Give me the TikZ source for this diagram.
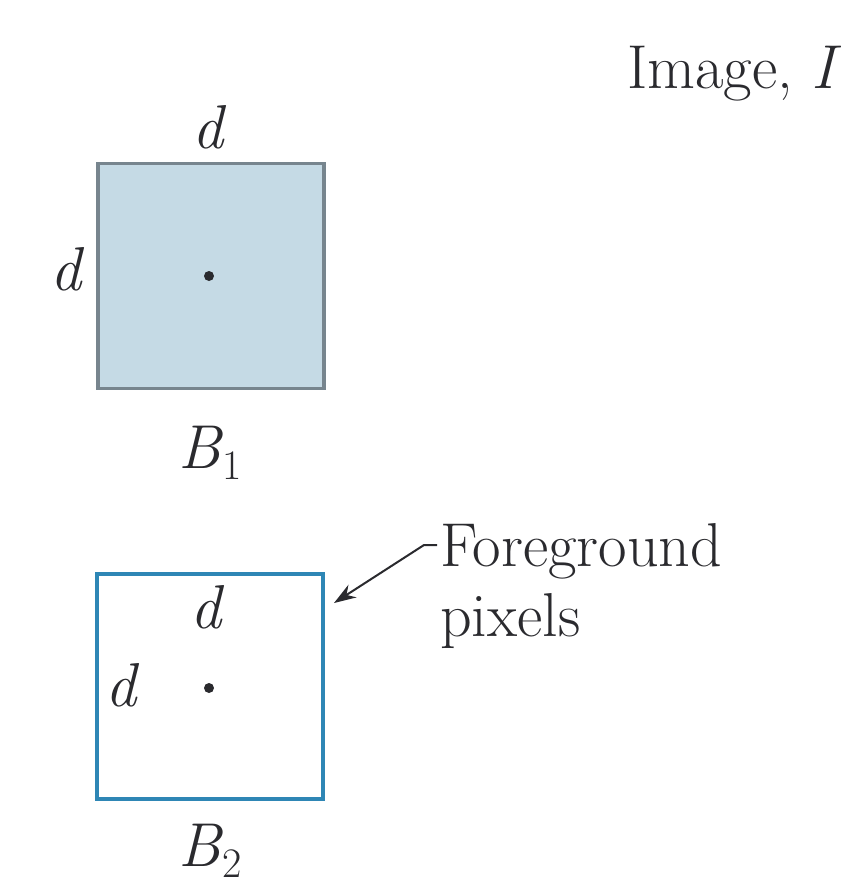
\documentclass[tikz,border=0pt]{standalone}
\usetikzlibrary{arrows.meta}
\definecolor{boxfill}{HTML}{C5DAE5}
\definecolor{boxgray}{HTML}{77858E}
\definecolor{boxblue}{HTML}{2E86B5}
\definecolor{ink}{HTML}{2A2A2E}
\newcommand{\sub}[1]{\raisebox{-0.18em}{\fontsize{42}{42}\selectfont #1}}
\tikzset{
  lbl/.style={inner sep=0pt, text=ink, font=\fontsize{62}{70}\selectfont},
  pt/.style={circle, fill=ink, inner sep=0pt, minimum size=10pt},
  squareA/.style={draw=boxgray, fill=boxfill, line width=3.5pt, minimum width=226pt, minimum height=225pt, inner sep=0pt},
  squareB/.style={draw=boxblue, line width=4pt, minimum width=226pt, minimum height=225pt, inner sep=0pt},
  leader/.style={draw=ink, line width=2pt, -{Stealth[length=22pt,width=15pt]}}
}
\begin{document}
\begin{tikzpicture}[x=1pt,y=-1pt]
\useasboundingbox (0,0) rectangle (866,892);
% Box B1
\node[squareA] (b1) at (211,276) {};
\node[pt] (c1) at (209,276) {};
\node[lbl, anchor=base] (d1t) at (210,148) {\textit{d}};
\node[lbl, anchor=base] (d1l) at (68,290) {\textit{d}};
\node[lbl, anchor=base] (B1) at (210,468) {\textit{B}\sub{1}};
% Box B2
\node[squareB] (b2) at (210,686) {};
\node[pt] (c2) at (209,688) {};
\node[lbl, anchor=base] (d2t) at (208,628) {\textit{d}};
\node[lbl, anchor=base] (d2l) at (123,706) {\textit{d}};
\node[lbl, anchor=base] (B2) at (210,866) {\textit{B}\sub{2}};
% Image label
\node[lbl, anchor=base west] (img) at (627,88) {Image, \textit{I}};
% Foreground label
\node[lbl, anchor=base west] (fg) at (440,566) {Foreground};
\node[lbl, anchor=base west] (px) at (440,636) {pixels};
\coordinate (lstart) at (437,545);
\coordinate (lbend) at (424,545);
\coordinate (tip) at (334,603);
\draw[leader] (lstart) -- (lbend) -- (tip);
\end{tikzpicture}
\end{document}
